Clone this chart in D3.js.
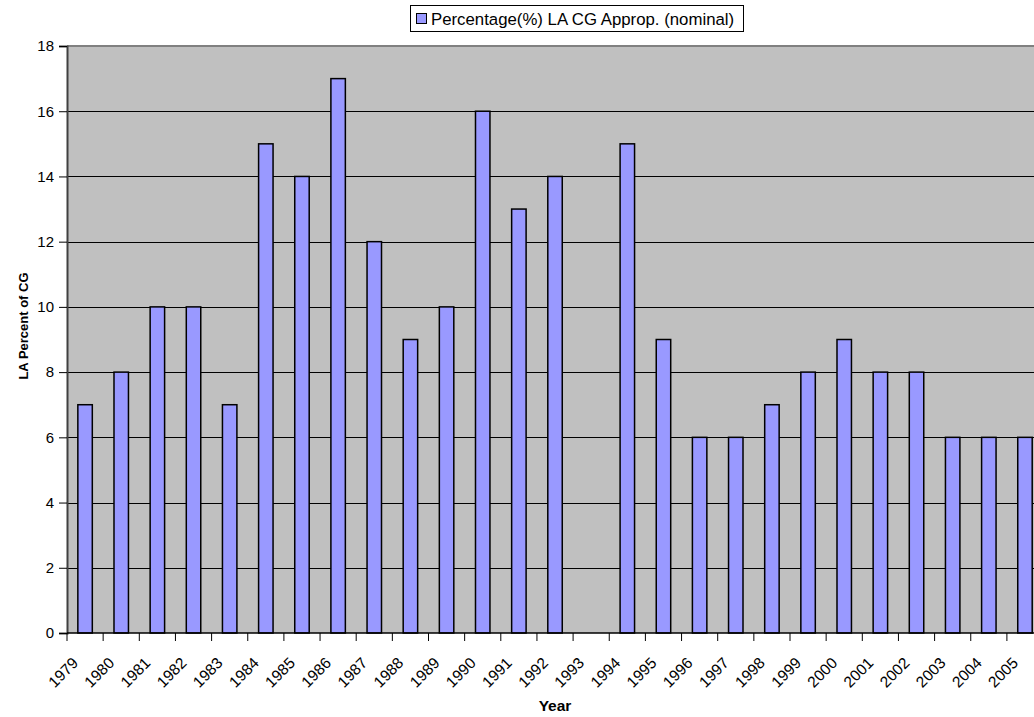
<!DOCTYPE html>
<html lang="en">
<head>
	<meta charset="UTF-8">
	<title>LA Percent of CG</title>
	<style>
		body { margin: 0; background: #fff; }
		svg { display: block; font-family: Arial, "Liberation Sans", sans-serif; }
	</style>
</head>
<body>
	<script src="https://d3js.org/d3.v7.min.js"></script>
	<script>
		// categories and values (1993 has no bar)
		var years = ["1979", "1980", "1981", "1982", "1983", "1984", "1985", "1986", "1987",
			"1988", "1989", "1990", "1991", "1992", "1993", "1994", "1995", "1996", "1997",
			"1998", "1999", "2000", "2001", "2002", "2003", "2004", "2005"];
		var percents = [7, 8, 10, 10, 7, 15, 14, 17, 12, 9, 10, 16, 13, 14, null, 15, 9, 6, 6,
			7, 8, 9, 8, 8, 6, 6, 6];
		var yTicks = [0, 2, 4, 6, 8, 10, 12, 14, 16, 18];
		var seriesName = "Percentage(%) LA CG Approp. (nominal)";

		var w = 1034, h = 717;
		var plotLeft = 67, plotTop = 46, plotBottom = 633;
		var band = 36.15;
		var plotRight = plotLeft + band * years.length;

		var svg = d3.select("body").append("svg")
			.attr("width", w)
			.attr("height", h);

		var x = d3.scaleBand()
			.domain(years)
			.range([plotLeft, plotRight])
			.paddingInner(0.6)
			.paddingOuter(0.3);

		var y = d3.scaleLinear()
			.domain([0, 18])
			.range([plotBottom, plotTop]);

		// plot background
		svg.append("rect")
			.attr("x", plotLeft)
			.attr("y", plotTop)
			.attr("width", plotRight - plotLeft)
			.attr("height", plotBottom - plotTop)
			.attr("fill", "#c0c0c0");

		// gridlines
		svg.append("g")
			.selectAll("line")
			.data(yTicks.filter(function(d) { return d > 0 && d < 18; }))
			.enter()
			.append("line")
			.attr("x1", plotLeft)
			.attr("x2", plotRight)
			.attr("y1", function(d) { return Math.round(y(d)) + 0.5; })
			.attr("y2", function(d) { return Math.round(y(d)) + 0.5; })
			.attr("stroke", "#000")
			.attr("stroke-width", 1);

		// top border of plot
		svg.append("line")
			.attr("x1", plotLeft).attr("x2", plotRight)
			.attr("y1", plotTop).attr("y2", plotTop)
			.attr("stroke", "#808080")
			.attr("stroke-width", 2);

		// bars
		svg.append("g")
			.selectAll("rect")
			.data(years.map(function(d, i) { return { year: d, v: percents[i] }; })
				.filter(function(d) { return d.v != null; }))
			.enter()
			.append("rect")
			.attr("x", function(d) { return x(d.year); })
			.attr("y", function(d) { return y(d.v); })
			.attr("width", x.bandwidth())
			.attr("height", function(d) { return plotBottom - y(d.v); })
			.attr("fill", "#9999ff")
			.attr("stroke", "#000")
			.attr("stroke-width", 1.5);

		// y axis
		var yAxis = svg.append("g")
			.attr("transform", "translate(" + plotLeft + ",0)")
			.call(d3.axisLeft(y).tickValues(yTicks).tickSize(8).tickPadding(5));
		yAxis.select(".domain").attr("stroke", "#404040").attr("stroke-width", 2);
		yAxis.selectAll(".tick line").attr("stroke", "#000");
		yAxis.selectAll("text").attr("font-size", "15px").attr("fill", "#000")
			.attr("font-family", "Arial, 'Liberation Sans', sans-serif");

		// x axis: ticks at category boundaries
		var xg = svg.append("g");
		xg.append("line")
			.attr("x1", plotLeft).attr("x2", plotRight)
			.attr("y1", plotBottom).attr("y2", plotBottom)
			.attr("stroke", "#000").attr("stroke-width", 1.5);
		xg.selectAll("line.tk")
			.data(years)
			.enter()
			.append("line")
			.attr("class", "tk")
			.attr("x1", function(d) { return x(d) - x.step() * 0.3; })
			.attr("x2", function(d) { return x(d) - x.step() * 0.3; })
			.attr("y1", plotBottom)
			.attr("y2", plotBottom + 8)
			.attr("stroke", "#000");
		xg.selectAll("text")
			.data(years)
			.enter()
			.append("text")
			.text(function(d) { return d; })
			.attr("text-anchor", "end")
			.attr("font-size", "15.5px")
			.attr("fill", "#000")
			.attr("transform", function(d) {
				return "translate(" + (x(d) + x.bandwidth() / 2 - 6) + "," + 664 + ") rotate(-45)";
			});

		// axis titles
		svg.append("text")
			.text("Year")
			.attr("x", (plotLeft + plotRight) / 2)
			.attr("y", 711)
			.attr("text-anchor", "middle")
			.attr("font-size", "15.5px")
			.attr("font-weight", "bold");

		svg.append("text")
			.text("LA Percent of CG")
			.attr("text-anchor", "middle")
			.attr("font-size", "13px")
			.attr("font-weight", "bold")
			.attr("transform", "translate(28,326) rotate(-90)");

		// legend
		var lg = svg.append("g").attr("transform", "translate(410,5)");
		lg.append("rect")
			.attr("x", 0.5)
			.attr("y", 0.5)
			.attr("width", 333)
			.attr("height", 26)
			.attr("fill", "#fff")
			.attr("stroke", "#000");
		lg.append("rect")
			.attr("x", 6.5)
			.attr("y", 8.5)
			.attr("width", 10)
			.attr("height", 10)
			.attr("fill", "#9999ff")
			.attr("stroke", "#000");
		lg.append("text")
			.text(seriesName)
			.attr("x", 21)
			.attr("y", 20)
			.attr("font-size", "16.8px");
	</script>
</body>
</html>
